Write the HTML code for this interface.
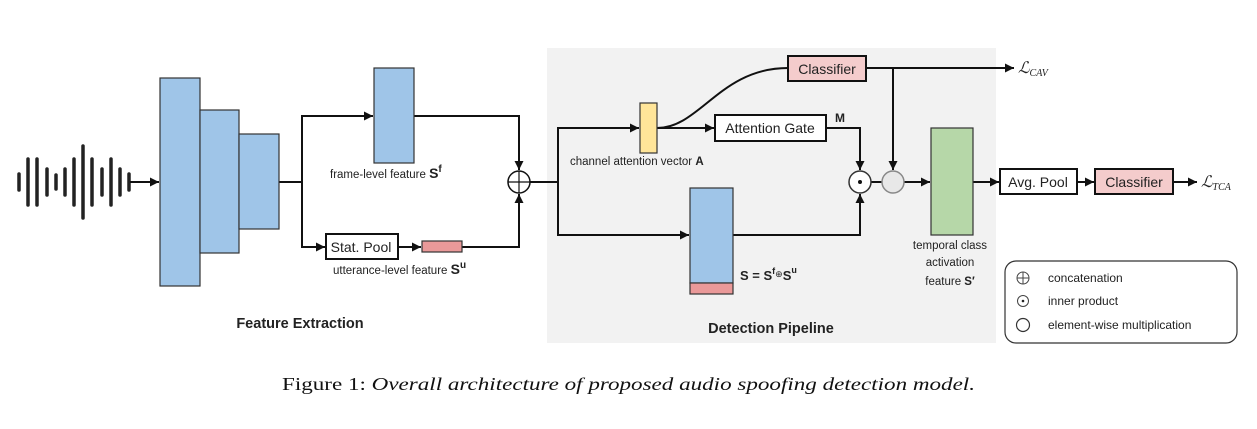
<!DOCTYPE html>
<html><head><meta charset="utf-8"><style>
html,body{margin:0;padding:0;background:#fff;}
svg{display:block;}
text{font-family:"Liberation Sans",Arial,sans-serif;fill:#222;}
</style></head><body>
<svg width="1257" height="429" viewBox="0 0 1257 429" xmlns="http://www.w3.org/2000/svg">
<defs>
<marker id="a" viewBox="0 0 10 10" refX="10" refY="5" markerWidth="9" markerHeight="9" markerUnits="userSpaceOnUse" orient="auto"><path d="M0,0 L10,5 L0,10 z" fill="#111"/></marker>
</defs>
<rect x="547" y="48" width="449" height="295" fill="#f2f2f2"/>
<g stroke="#222" stroke-width="3.5" stroke-linecap="round">
<line x1="19" y1="174" x2="19" y2="190"/>
<line x1="28" y1="159" x2="28" y2="205"/>
<line x1="37" y1="159" x2="37" y2="205"/>
<line x1="47" y1="169" x2="47" y2="195"/>
<line x1="56" y1="175" x2="56" y2="189"/>
<line x1="65" y1="169" x2="65" y2="195"/>
<line x1="74" y1="159" x2="74" y2="205"/>
<line x1="83" y1="146" x2="83" y2="218"/>
<line x1="92" y1="159" x2="92" y2="205"/>
<line x1="102" y1="169" x2="102" y2="195"/>
<line x1="111" y1="159" x2="111" y2="205"/>
<line x1="120" y1="169" x2="120" y2="195"/>
<line x1="129" y1="174" x2="129" y2="190"/>
</g>
<g stroke="#111" stroke-width="2" fill="none">
<line x1="130" y1="182" x2="159" y2="182" marker-end="url(#a)"/>
<polyline points="279,182 302,182"/>
<polyline points="302,182 302,116 373,116" marker-end="url(#a)"/>
<polyline points="302,182 302,247 325,247" marker-end="url(#a)"/>
<polyline points="414,116 519,116 519,170" marker-end="url(#a)"/>
<line x1="398" y1="247" x2="421" y2="247" marker-end="url(#a)"/>
<polyline points="462,247 519,247 519,194" marker-end="url(#a)"/>
<polyline points="530,182 558,182"/>
<polyline points="558,182 558,128 639,128" marker-end="url(#a)"/>
<polyline points="558,182 558,235 689,235" marker-end="url(#a)"/>
<line x1="657" y1="128" x2="714" y2="128" marker-end="url(#a)"/>
<path d="M657,128 C700,128 720,68 788,68"/>
<polyline points="826,128 860,128 860,170" marker-end="url(#a)"/>
<polyline points="733,235 860,235 860,194" marker-end="url(#a)"/>
<line x1="866" y1="68" x2="1014" y2="68" marker-end="url(#a)"/>
<line x1="893" y1="68" x2="893" y2="170" marker-end="url(#a)"/>
<line x1="871" y1="182" x2="882" y2="182"/>
<line x1="904" y1="182" x2="930" y2="182" marker-end="url(#a)"/>
<line x1="973" y1="182" x2="999" y2="182" marker-end="url(#a)"/>
<line x1="1077" y1="182" x2="1094" y2="182" marker-end="url(#a)"/>
<line x1="1173" y1="182" x2="1197" y2="182" marker-end="url(#a)"/>
</g>
<g stroke="#333" stroke-width="1.2">
<rect x="160" y="78" width="40" height="208" fill="#9fc5e8"/>
<rect x="200" y="110" width="39" height="143" fill="#9fc5e8"/>
<rect x="239" y="134" width="40" height="95" fill="#9fc5e8"/>
<rect x="374" y="68" width="40" height="95" fill="#9fc5e8"/>
<rect x="422" y="241" width="40" height="11" fill="#ea9999"/>
<rect x="640" y="103" width="17" height="50" fill="#ffe599"/>
<rect x="690" y="188" width="43" height="95" fill="#9fc5e8"/>
<rect x="690" y="283" width="43" height="11" fill="#ea9999"/>
<rect x="931" y="128" width="42" height="107" fill="#b6d7a8"/>
</g>
<g stroke="#111" stroke-width="2">
<rect x="326" y="234" width="72" height="25" fill="#fff"/>
<rect x="715" y="115" width="111" height="26" fill="#fff"/>
<rect x="788" y="56" width="78" height="25" fill="#f4cccc"/>
<rect x="1000" y="169" width="77" height="25" fill="#fff"/>
<rect x="1095" y="169" width="78" height="25" fill="#f4cccc"/>
</g>
<circle cx="519" cy="182" r="11" fill="#fff" stroke="#111" stroke-width="1.5"/>
<line x1="508" y1="182" x2="530" y2="182" stroke="#111" stroke-width="1.2"/>
<line x1="519" y1="171" x2="519" y2="193" stroke="#111" stroke-width="1.2"/>
<circle cx="860" cy="182" r="11" fill="#fff" stroke="#333" stroke-width="1.5"/>
<circle cx="860" cy="182" r="2" fill="#111"/>
<circle cx="893" cy="182" r="11" fill="#e8e8e8" stroke="#888" stroke-width="1.5"/>
<text x="361" y="252" font-size="14" text-anchor="middle">Stat. Pool</text>
<text x="770" y="133" font-size="14" text-anchor="middle">Attention Gate</text>
<text x="827" y="74" font-size="14" text-anchor="middle">Classifier</text>
<text x="1038" y="187" font-size="14" text-anchor="middle">Avg. Pool</text>
<text x="1134" y="187" font-size="14" text-anchor="middle">Classifier</text>
<text x="330" y="178" font-size="11.5">frame-level feature <tspan font-weight="bold" font-size="14">S</tspan><tspan font-weight="bold" font-size="10" dy="-6">f</tspan></text>
<text x="333" y="274" font-size="11.5">utterance-level feature <tspan font-weight="bold" font-size="14">S</tspan><tspan font-weight="bold" font-size="10" dy="-6">u</tspan></text>
<text x="300" y="328" font-size="14.5" font-weight="bold" text-anchor="middle">Feature Extraction</text>
<text x="570" y="165" font-size="11.5">channel attention vector <tspan font-weight="bold">A</tspan></text>
<text x="835" y="122" font-size="12" font-weight="bold">M</text>
<text x="740" y="280" font-size="13" font-weight="bold">S = S<tspan font-size="9" dy="-6">f</tspan><tspan font-size="9" font-weight="normal" dy="3">⊕</tspan><tspan dy="3">S</tspan><tspan font-size="9" dy="-7">u</tspan></text>
<text x="771" y="333" font-size="14.5" font-weight="bold" text-anchor="middle">Detection Pipeline</text>
<text x="950" y="249" font-size="11.5" text-anchor="middle">temporal class</text>
<text x="950" y="266" font-size="11.5" text-anchor="middle">activation</text>
<text x="950" y="285" font-size="11.5" text-anchor="middle">feature <tspan font-weight="bold">S′</tspan></text>
<text x="1018" y="73" font-size="16" font-style="italic" style="font-family:'Liberation Serif',serif">ℒ<tspan font-size="10" dy="3">CAV</tspan></text>
<text x="1201" y="187" font-size="16" font-style="italic" style="font-family:'Liberation Serif',serif">ℒ<tspan font-size="10" dy="3">TCA</tspan></text>
<rect x="1005" y="261" width="232" height="82" rx="11" fill="#fff" stroke="#333" stroke-width="1.2"/>
<circle cx="1023" cy="278" r="6" fill="none" stroke="#444" stroke-width="1"/>
<line x1="1017" y1="278" x2="1029" y2="278" stroke="#444"/>
<line x1="1023" y1="272" x2="1023" y2="284" stroke="#444"/>
<circle cx="1023" cy="301" r="5.5" fill="none" stroke="#444" stroke-width="1"/>
<circle cx="1023" cy="301" r="1.3" fill="#222"/>
<circle cx="1023" cy="325" r="6.5" fill="none" stroke="#333" stroke-width="1.2"/>
<text x="1048" y="282" font-size="12">concatenation</text>
<text x="1048" y="305" font-size="12">inner product</text>
<text x="1048" y="329" font-size="12">element-wise multiplication</text>
<text x="282" y="390" font-size="18" textLength="693" lengthAdjust="spacingAndGlyphs" style="fill:#111;font-family:'Liberation Serif',serif">Figure 1: <tspan font-style="italic">Overall architecture of proposed audio spoofing detection model.</tspan></text>
</svg>
</body></html>
